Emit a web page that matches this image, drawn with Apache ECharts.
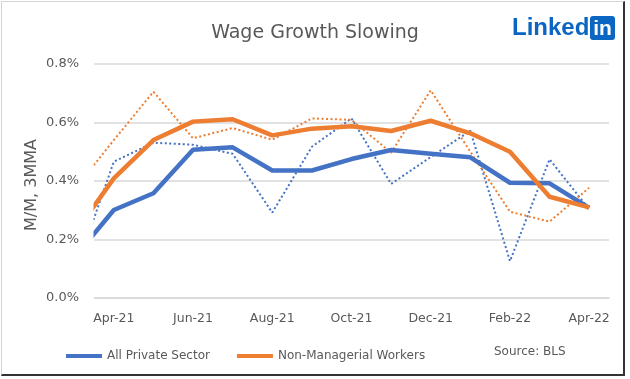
<!DOCTYPE html>
<html>
<head>
<meta charset="utf-8">
<script src="https://cdn.jsdelivr.net/npm/echarts@6/dist/echarts.min.js"></script>
<style>
  html, body { margin: 0; padding: 0; background: #fff; }
  #wrap { position: relative; width: 630px; height: 379px; background: #fff; overflow: hidden; }
  #frame { position: absolute; left: 1px; top: 1px; width: 621px; height: 372px;
           border-top: 1px solid #d4d4d4; border-left: 1px solid #d4d4d4;
           border-right: 2px solid #333; border-bottom: 2px solid #333; }
  #chart { position: absolute; left: 0; top: 0; width: 630px; height: 379px; }
</style>
</head>
<body>
<div id="wrap"><div id="frame"></div><div id="chart"></div></div>
<script>
// Months (first entry, Mar-21, lies just left of the visible axis and is clipped)
const months = ['Mar-21','Apr-21','May-21','Jun-21','Jul-21','Aug-21','Sep-21','Oct-21','Nov-21','Dec-21','Jan-22','Feb-22','Mar-22','Apr-22'];
const yTicks = [0, 0.2, 0.4, 0.6, 0.8];

// All Private Sector, 3-month moving average (%)
const allPrivate3MMA = [0.138, 0.301, 0.358, 0.507, 0.515, 0.436, 0.436, 0.475, 0.506, 0.493, 0.481, 0.394, 0.392, 0.308];
// All Private Sector, monthly M/M (%)
const allPrivateMoM = [0.078, 0.466, 0.531, 0.524, 0.493, 0.292, 0.517, 0.614, 0.390, 0.482, 0.572, 0.126, 0.474, 0.303];
// Non-Managerial Workers, 3-month moving average (%)
const nonMgr3MMA = [0.219, 0.409, 0.540, 0.603, 0.611, 0.556, 0.579, 0.587, 0.571, 0.606, 0.563, 0.500, 0.346, 0.310];
// Non-Managerial Workers, monthly M/M (%)
const nonMgrMoM = [0.370, 0.540, 0.705, 0.546, 0.581, 0.541, 0.614, 0.609, 0.497, 0.710, 0.500, 0.295, 0.261, 0.377];

const BLUE = '#4472C4', ORANGE = '#ED7D31', TXT = '#595959', GRID = '#d9d9d9';
const FONT = 'DejaVu Sans';
const LOGO_FONT = 'Liberation Sans';

const toPts = arr => arr.map((v, i) => [i - 1, v]);

const chart = echarts.init(document.getElementById('chart'), null, { renderer: 'canvas' });
const GRID_LEFT = 94;
chart.setOption({
  animation: false,
  backgroundColor: 'transparent',
  title: {
    text: 'Wage Growth Slowing', left: 'center', top: 19,
    textStyle: { fontFamily: FONT, fontSize: 19, fontWeight: 'normal', color: TXT }
  },
  grid: { left: GRID_LEFT, right: 21, top: 64, bottom: 81 },
  legend: {
    data: ['All Private Sector', 'Non-Managerial Workers'],
    left: 66, top: 350, padding: 0, icon: 'rect', itemWidth: 36, itemHeight: 4, itemGap: 27,
    textStyle: { fontFamily: FONT, fontSize: 12, color: TXT }
  },
  xAxis: [
    {
      type: 'category', data: months.slice(1), boundaryGap: true,
      axisLine: { lineStyle: { color: GRID, width: 1.5 } },
      axisTick: { interval: 1, length: 5, lineStyle: { color: GRID, width: 1.5 } },
      axisLabel: { interval: 1, margin: 14, color: TXT, fontFamily: FONT, fontSize: 12.5 },
      splitLine: { show: false }
    },
    { type: 'value', min: -0.5, max: 12.5, show: false }
  ],
  yAxis: {
    type: 'value', min: 0, max: 0.8, interval: 0.2,
    axisLine: { show: false }, axisTick: { show: false },
    axisLabel: { margin: 15, color: TXT, fontFamily: FONT, fontSize: 13,
                 formatter: v => yTicks.includes(+v.toFixed(1)) ? v.toFixed(1) + '%' : '' },
    splitLine: { lineStyle: { color: GRID, width: 1.5 } }
  },
  series: [
    { name: 'All Private Sector (M/M)', type: 'line', xAxisIndex: 1, data: toPts(allPrivateMoM),
      showSymbol: false, clip: true, z: 2,
      lineStyle: { color: BLUE, width: 2, type: [2, 2.5] }, itemStyle: { color: BLUE } },
    { name: 'Non-Managerial Workers (M/M)', type: 'line', xAxisIndex: 1, data: toPts(nonMgrMoM),
      showSymbol: false, clip: true, z: 2,
      lineStyle: { color: ORANGE, width: 2, type: [2, 2.5] }, itemStyle: { color: ORANGE } },
    { name: 'All Private Sector', type: 'line', xAxisIndex: 1, data: toPts(allPrivate3MMA),
      showSymbol: false, clip: true, z: 3,
      lineStyle: { color: BLUE, width: 4.5, join: 'round' }, itemStyle: { color: BLUE } },
    { name: 'Non-Managerial Workers', type: 'line', xAxisIndex: 1, data: toPts(nonMgr3MMA),
      showSymbol: false, clip: true, z: 4,
      lineStyle: { color: ORANGE, width: 4.5, join: 'round' }, itemStyle: { color: ORANGE } }
  ],
  graphic: [
    // white mask so lines are cut exactly at the plot's left edge
    { type: 'rect', z: 50, shape: { x: 82, y: 55, width: GRID_LEFT - 82 - 0.5, height: 250 },
      style: { fill: '#fff' } },
    { type: 'text', x: 32, y: 185, rotation: Math.PI / 2, z: 60,
      style: { text: 'M/M, 3MMA', fill: TXT, fontFamily: FONT, fontSize: 16, align: 'center', verticalAlign: 'middle' } },
    { type: 'text', x: 494, y: 346,
      style: { text: 'Source: BLS', fill: TXT, fontFamily: FONT, fontSize: 12, verticalAlign: 'top' } },
    { type: 'text', x: 512, y: 28,
      style: { text: 'Linked', fill: '#0a66c2', fontFamily: LOGO_FONT, fontWeight: 'bold', fontSize: 24, verticalAlign: 'middle' } },
    { type: 'rect', shape: { x: 590, y: 16, width: 25, height: 24, r: 3 }, style: { fill: '#0a66c2' } },
    { type: 'text', x: 602.5, y: 29,
      style: { text: 'in', fill: '#fff', fontFamily: LOGO_FONT, fontWeight: 'bold', fontSize: 21, align: 'center', verticalAlign: 'middle' } }
  ]
});
</script>
</body>
</html>
